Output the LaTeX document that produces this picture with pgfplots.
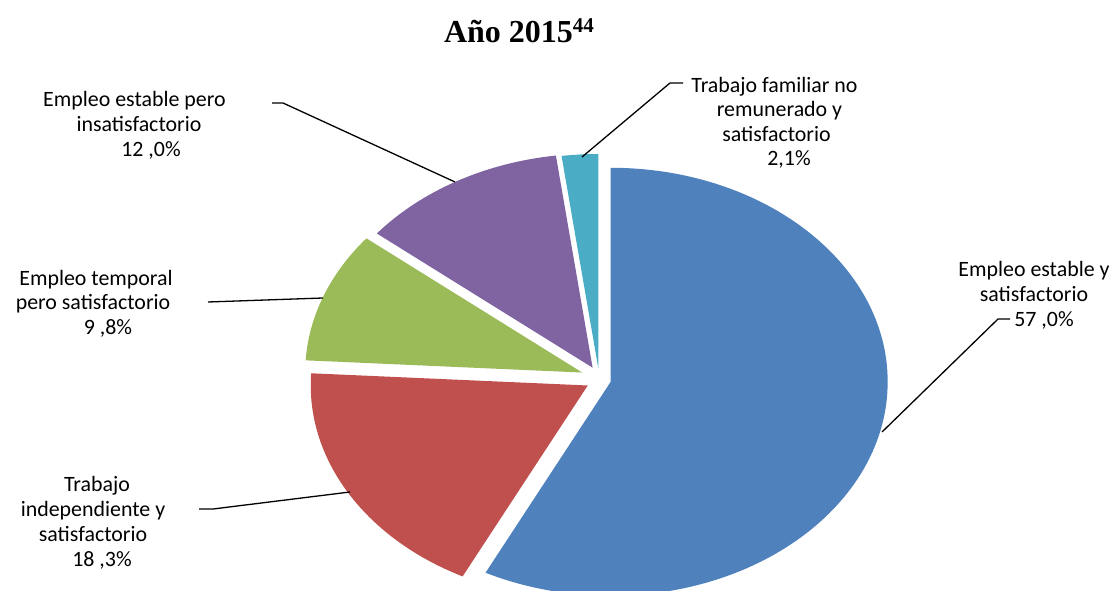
\documentclass[border=0pt]{standalone}
\usepackage{pgfplots}
\usepackage{pgfplotstable}
\pgfplotsset{compat=1.18}
\usepackage{fontspec}
\setmainfont{Carlito}
\newfontfamily\titlefont{Liberation Serif}
\definecolor{cA}{HTML}{4F81BD}
\definecolor{cB}{HTML}{C0504D}
\definecolor{cC}{HTML}{9BBB59}
\definecolor{cD}{HTML}{8064A2}
\definecolor{cE}{HTML}{4BACC6}
\newcommand\lbl{\fontsize{21.9}{25}\selectfont}

\pgfplotstableread{
value explode
57.0 12
18.3 13
9.8 18
12.0 13
2.1 11
}\piedata

\newcommand\getval[3]{\pgfplotstablegetelem{#1}{#2}\of\piedata\let#3\pgfplotsretval}

\newcommand\slice[4]{%
 \pgfmathsetmacro\tb{(#1+#2)/2}%
 \pgfmathsetmacro\vx{599+#3*sin(\tb)}%
 \pgfmathsetmacro\vy{212+#3*cos(\tb)}%
 \pgfmathsetmacro\ps{90-#1}%
 \pgfmathsetmacro\pe{90-#2}%
 \edef\doslice{\noexpand\fill[#4] (axis cs:\vx,\vy) -- ++(\ps:277pt and 214pt) arc[start angle=\ps, end angle=\pe, x radius=277pt, y radius=214pt] -- cycle;}%
 \doslice}

\begin{document}
\begin{tikzpicture}
\getval{0}{value}\vA \getval{1}{value}\vB \getval{2}{value}\vC \getval{3}{value}\vD \getval{4}{value}\vE
\getval{0}{explode}\dA \getval{1}{explode}\dB \getval{2}{explode}\dC \getval{3}{explode}\dD \getval{4}{explode}\dE
\pgfmathsetmacro\total{\vA+\vB+\vC+\vD+\vE}
\pgfmathsetmacro\aB{\vA/\total*360}
\pgfmathsetmacro\aC{(\vA+\vB)/\total*360}
\pgfmathsetmacro\aD{(\vA+\vB+\vC)/\total*360}
\pgfmathsetmacro\aE{(\vA+\vB+\vC+\vD)/\total*360}
\begin{axis}[
  at={(0,0)}, anchor=origin,
  x=1pt, y=1pt, disabledatascaling, scale only axis,
  xmin=0, xmax=1116, ymin=0, ymax=591,
  hide axis, clip=false,
]
\slice{0}{\aB}{\dA}{cA}
\slice{\aB}{\aC}{\dB}{cB}
\slice{\aC}{\aD}{\dC}{cC}
\slice{\aD}{\aE}{\dD}{cD}
\slice{\aE}{360}{\dE}{cE}

% leader lines
\draw[black, line width=1.3pt] (axis cs:582,434) -- (axis cs:670,508) -- (axis cs:683,508);
\draw[black, line width=1.3pt] (axis cs:272,488) -- (axis cs:283,488) -- (axis cs:455,409);
\draw[black, line width=1.3pt] (axis cs:208,289) -- (axis cs:323,293);
\draw[black, line width=1.3pt] (axis cs:199,82) -- (axis cs:213,82) -- (axis cs:350,99);
\draw[black, line width=1.3pt] (axis cs:1010,272) -- (axis cs:998,272) -- (axis cs:882,159);

% title
\node[anchor=base, font=\titlefont\bfseries\fontsize{32}{38}\selectfont, inner sep=0pt] at (axis cs:519,548) {Año 2015\raisebox{10pt}{\fontsize{21}{21}\selectfont 44}};

% labels
\begin{scope}[every node/.style={anchor=base, font=\lbl, inner sep=0pt}]
\node at (axis cs:774.5,498) {Trabajo familiar no};
\node at (axis cs:779.5,474) {remunerado y};
\node at (axis cs:776.5,449) {satisfactorio};
\node at (axis cs:789,425) {2,1\%};

\node at (axis cs:134.5,484) {Empleo estable pero};
\node at (axis cs:139,459) {insatisfactorio};
\node at (axis cs:151,434) {12 ,0\%};

\node at (axis cs:1034,314) {Empleo estable y};
\node at (axis cs:1034,289) {satisfactorio};
\node at (axis cs:1044,264) {57 ,0\%};

\node at (axis cs:96,305) {Empleo temporal};
\node at (axis cs:93,281) {pero satisfactorio};
\node at (axis cs:108,256) {9 ,8\%};

\node at (axis cs:97,99) {Trabajo};
\node at (axis cs:93,74) {independiente y};
\node at (axis cs:93,49) {satisfactorio};
\node at (axis cs:102,24) {18 ,3\%};
\end{scope}
\end{axis}
\pgfresetboundingbox
\useasboundingbox (0,0) rectangle (1116pt,591pt);
\end{tikzpicture}
\end{document}
